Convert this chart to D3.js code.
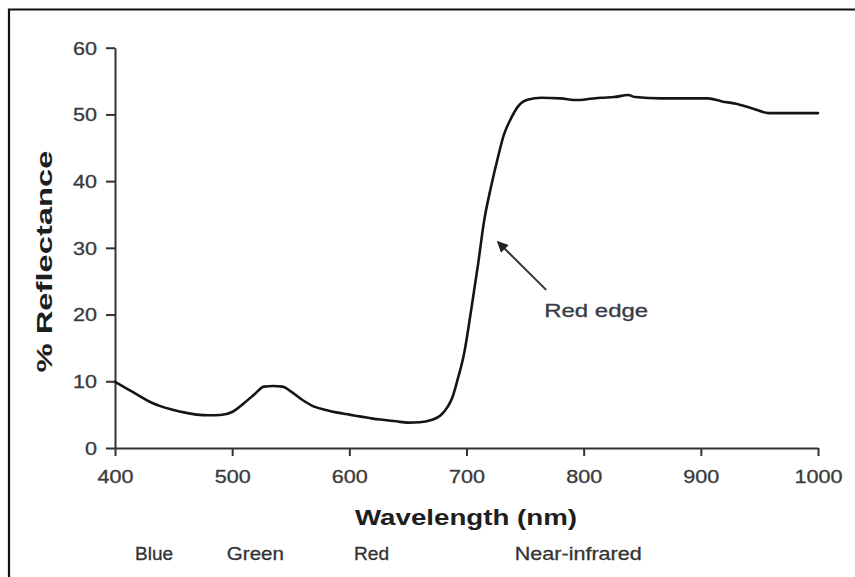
<!DOCTYPE html>
<html>
<head>
<meta charset="utf-8">
<script src="https://cdn.jsdelivr.net/npm/d3@7/dist/d3.min.js"></script>
<style>
  html, body { margin: 0; padding: 0; background: #fff; }
  svg { display: block; }
  text { font-family: "Liberation Sans", Arial, sans-serif; }
</style>
</head>
<body>
<svg id="chart" width="855" height="577"></svg>
<script>
// ---- data ----
const wavelength = [400,410,420,430,440,450,460,470,480,490,500,510,520,527,535,543,550,560,570,580,590,600,610,620,630,640,650,660,670,678,684,688,692,698,704,710,715,721,727,732,738,744,752,764,780,795,804,815,826,838,844,866,906,918,930,944,958,1000];
const reflectance = [9.9,8.9,7.9,6.9,6.2,5.7,5.3,5.0,4.9,4.95,5.4,6.7,8.2,9.2,9.3,9.2,8.5,7.2,6.2,5.7,5.3,5.0,4.7,4.4,4.2,4.0,3.8,3.85,4.2,4.9,6.2,7.6,10.0,14.2,20.7,27.7,34.0,39.2,43.7,47.0,49.4,51.2,52.2,52.5,52.4,52.15,52.3,52.5,52.6,52.9,52.6,52.4,52.4,51.95,51.6,50.9,50.2,50.2];
const xTicks = [400,500,600,700,800,900,1000];
const yTicks = [0,10,20,30,40,50,60];
const bandNames = ["Blue","Green","Red","Near-infrared"];
const bandCenters = [433.4,519.8,619,795.4];
const xTitle = "Wavelength (nm)";
const yTitle = "% Reflectance";
const annotationText = "Red edge";
const annotationTip = [726.7, 30.9];
const annotationTail = [768, 23.7];
const annotationLabel = [766.3, 19.6];

// ---- layout ----
const svg = d3.select("#chart");
const x = d3.scaleLinear().domain([400,1000]).range([115,818]);
const y = d3.scaleLinear().domain([0,60]).range([448,47.7]);

function stretch(sel, f) {
  sel.each(function() {
    const len = this.getComputedTextLength();
    d3.select(this).attr("textLength", len * f).attr("lengthAdjust", "spacingAndGlyphs");
  });
}

// frame
svg.append("path")
  .attr("d", "M9,577 L9,9.5 L855,9.5")
  .attr("fill", "none").attr("stroke", "#111").attr("stroke-width", 2.2);

// axes
const xAxis = svg.append("g").attr("transform", "translate(0,448)")
  .call(d3.axisBottom(x).tickValues(xTicks).tickSize(8).tickSizeOuter(0).tickFormat(d3.format("d")));
const yAxis = svg.append("g").attr("transform", "translate(115,0)")
  .call(d3.axisLeft(y).tickValues(yTicks).tickSize(9).tickSizeOuter(0).tickFormat(d3.format("d")));

[xAxis, yAxis].forEach(a => {
  a.select(".domain").attr("stroke", "#333").attr("stroke-width", 2);
  a.selectAll(".tick line").attr("stroke", "#333").attr("stroke-width", 2);
  a.selectAll(".tick text").attr("fill", "#3a3a3a").style("font-size", "18px")
    .attr("stroke", "#3a3a3a").attr("stroke-width", 0.3)
    .style("font-family", "'Liberation Sans', Arial, sans-serif");
});
xAxis.selectAll(".tick text").attr("y", 35).attr("dy", 0);
yAxis.selectAll(".tick text").attr("x", -18).attr("dy", "0.35em");
stretch(xAxis.selectAll(".tick text"), 1.2);
stretch(yAxis.selectAll(".tick text"), 1.2);

// curve
const pts = wavelength.map((w, i) => [w, reflectance[i]]);
const line = d3.line().x(d => x(d[0])).y(d => y(d[1])).curve(d3.curveMonotoneX);
svg.append("path").datum(pts)
  .attr("d", line)
  .attr("fill", "none").attr("stroke", "#151515").attr("stroke-width", 2.6)
  .attr("stroke-linejoin", "round").attr("stroke-linecap", "round");

// annotation arrow
const defs = svg.append("defs");
defs.append("marker").attr("id", "arrow")
  .attr("viewBox", "0 0 10 10").attr("refX", 9).attr("refY", 5)
  .attr("markerWidth", 15).attr("markerHeight", 11).attr("markerUnits", "userSpaceOnUse")
  .attr("orient", "auto")
  .append("path").attr("d", "M0,0 L10,5 L0,10 Z").attr("fill", "#222");
svg.append("line")
  .attr("x1", x(annotationTail[0])).attr("y1", y(annotationTail[1]))
  .attr("x2", x(annotationTip[0])).attr("y2", y(annotationTip[1]))
  .attr("stroke", "#333").attr("stroke-width", 2)
  .attr("marker-end", "url(#arrow)");
svg.append("text")
  .attr("x", x(annotationLabel[0])).attr("y", y(annotationLabel[1]))
  .attr("fill", "#373c46").attr("stroke", "#373c46").attr("stroke-width", 0.3)
  .style("font-size", "18px")
  .attr("textLength", 104).attr("lengthAdjust", "spacingAndGlyphs")
  .text(annotationText);

// axis titles
svg.append("text")
  .attr("x", 466).attr("y", 525).attr("text-anchor", "middle")
  .attr("fill", "#1e1e1e").style("font-size", "22px").style("font-weight", "bold")
  .attr("textLength", 222).attr("lengthAdjust", "spacingAndGlyphs")
  .text(xTitle);
svg.append("text")
  .attr("transform", "translate(52,261.5) rotate(-90)")
  .attr("text-anchor", "middle")
  .attr("fill", "#1e1e1e").style("font-size", "22px").style("font-weight", "bold")
  .attr("textLength", 222).attr("lengthAdjust", "spacingAndGlyphs")
  .text(yTitle);

// band labels
const bandLens = [38, 57, 35, 127];
svg.selectAll(".band").data(bandNames).enter().append("text")
  .attr("class", "band")
  .attr("x", (d, i) => x(bandCenters[i])).attr("y", 560)
  .attr("text-anchor", "middle")
  .attr("fill", "#333").attr("stroke", "#333").attr("stroke-width", 0.3)
  .style("font-size", "18.5px")
  .attr("textLength", (d, i) => bandLens[i]).attr("lengthAdjust", "spacingAndGlyphs")
  .text(d => d);
</script>
</body>
</html>
